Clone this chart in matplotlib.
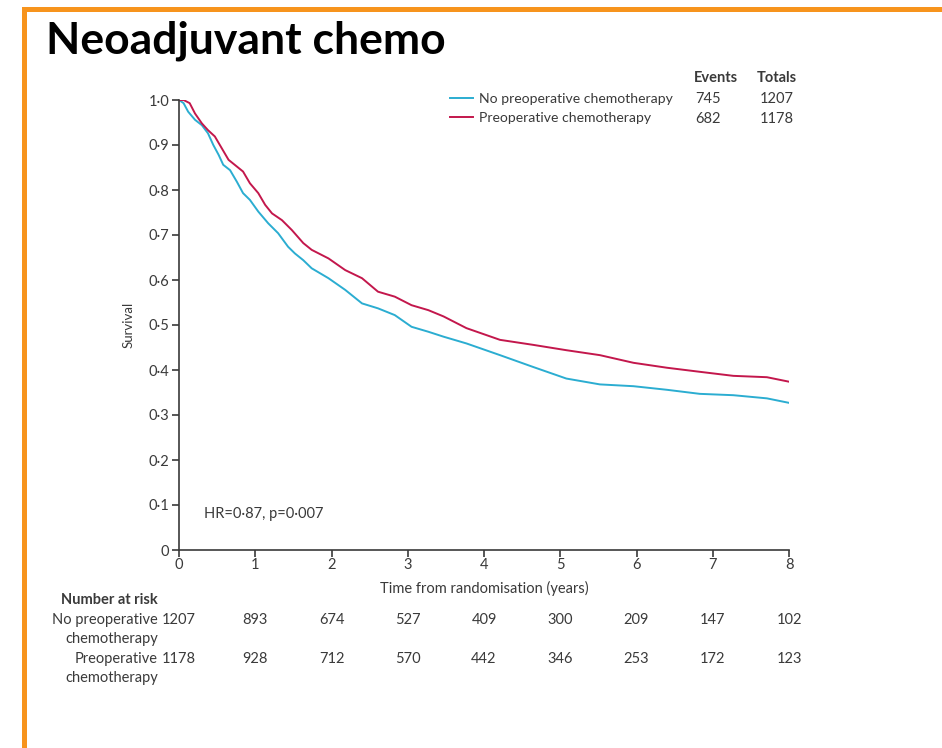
import matplotlib
matplotlib.use("Agg")
import matplotlib.pyplot as plt
from matplotlib.patches import Rectangle

plt.rcParams["font.family"] = ["Lato", "DejaVu Sans"]

# Kaplan-Meier survival, no preoperative chemotherapy
t_no = [0, 0.06, 0.12, 0.21, 0.30, 0.38, 0.45, 0.52, 0.58, 0.67, 0.76, 0.84, 0.93,
        1.04, 1.17, 1.30, 1.43, 1.52, 1.63, 1.74, 1.96, 2.18, 2.40, 2.61, 2.83, 3.05,
        3.27, 3.47, 3.77, 4.21, 4.64, 5.08, 5.52, 5.96, 6.40, 6.83, 7.27, 7.71, 8.0]
s_no = [1.0, 0.993, 0.974, 0.956, 0.944, 0.926, 0.900, 0.878, 0.856, 0.844, 0.818, 0.793, 0.778,
        0.752, 0.726, 0.704, 0.674, 0.659, 0.644, 0.626, 0.604, 0.578, 0.548, 0.537, 0.522, 0.496,
        0.485, 0.474, 0.459, 0.433, 0.407, 0.381, 0.368, 0.364, 0.356, 0.347, 0.344, 0.337, 0.327]

# Kaplan-Meier survival, preoperative chemotherapy
t_pre = [0, 0.06, 0.14, 0.21, 0.30, 0.38, 0.47, 0.56, 0.65, 0.76, 0.84, 0.93, 1.04,
         1.13, 1.22, 1.35, 1.48, 1.63, 1.74, 1.96, 2.18, 2.40, 2.61, 2.83, 3.05, 3.27,
         3.47, 3.77, 4.21, 4.64, 5.08, 5.52, 5.96, 6.40, 6.83, 7.27, 7.71, 8.0]
s_pre = [1.0, 1.0, 0.993, 0.970, 0.948, 0.933, 0.919, 0.893, 0.867, 0.852, 0.841, 0.815, 0.793,
         0.767, 0.748, 0.733, 0.711, 0.682, 0.667, 0.648, 0.622, 0.604, 0.574, 0.563, 0.544, 0.533,
         0.519, 0.493, 0.467, 0.456, 0.444, 0.433, 0.416, 0.405, 0.396, 0.387, 0.384, 0.374]

groups = ["No preoperative chemotherapy", "Preoperative chemotherapy"]
events = [745, 682]
totals = [1207, 1178]

risk_times = [0, 1, 2, 3, 4, 5, 6, 7, 8]
risk_no = [1207, 893, 674, 527, 409, 300, 209, 147, 102]
risk_pre = [1178, 928, 712, 570, 442, 346, 253, 172, 123]

blue = "#2badd1"
red = "#c3174c"
dark = "#3a3a3a"
fs = 10.5

W, H = 942, 748
fig = plt.figure(figsize=(W / 100, H / 100), dpi=100)


def fx(x):
    return x / W


def fy(y):
    return 1 - y / H


# orange frame
orange = "#f7941d"
fig.add_artist(Rectangle((fx(22), fy(12)), fx(W - 22), 5 / H, transform=fig.transFigure,
                         color=orange, lw=0))
fig.add_artist(Rectangle((fx(22), 0), 5 / W, fy(7), transform=fig.transFigure,
                         color=orange, lw=0))

fig.text(fx(46), fy(41), "Neoadjuvant chemo", fontsize=32, fontweight="bold",
         va="center", ha="left", color="black")

ax = fig.add_axes([fx(179), fy(550), fx(789) - fx(179), fy(100) - fy(550)])
ax.plot(t_no, s_no, color=blue, lw=1.4, label=groups[0])
ax.plot(t_pre, s_pre, color=red, lw=1.4, label=groups[1])

ax.set_xlim(0, 8)
ax.set_ylim(0, 1)
for s in ["top", "right"]:
    ax.spines[s].set_visible(False)
for s in ["left", "bottom"]:
    ax.spines[s].set_color(dark)
    ax.spines[s].set_linewidth(1.2)

yt = [i / 10 for i in range(11)]
ax.set_yticks(yt, ["0"] + [f"{v:.1f}".replace(".", "·") for v in yt[1:]])
ax.set_xticks(risk_times, [str(t) for t in risk_times])
ax.tick_params(axis="both", direction="out", length=5, width=1.2, color=dark,
               labelsize=fs, labelcolor=dark)
ax.tick_params(axis="y", pad=2)
ax.tick_params(axis="x", pad=1)
ax.set_xlabel("Time from randomisation (years)", fontsize=fs, color=dark, labelpad=6)
ax.set_ylabel("Survival", fontsize=9.5, color=dark, labelpad=10)

ax.text(0.33, 0.08, "HR=0·87, p=0·007", fontsize=fs, color=dark, va="center")

# legend with events and totals
leg = ax.legend(loc="upper left", bbox_to_anchor=(fx(443), fy(86)),
                bbox_transform=fig.transFigure, frameon=False, fontsize=10.1,
                handlelength=1.65, handletextpad=0.45, labelspacing=0.5, borderpad=0)
for txt in leg.get_texts():
    txt.set_color(dark)
fig.text(fx(694), fy(78), "Events", fontsize=fs, fontweight="bold", color=dark, va="center")
fig.text(fx(757), fy(78), "Totals", fontsize=fs, fontweight="bold", color=dark, va="center")
for i, (e, n) in enumerate(zip(events, totals)):
    y = 99 + i * 20
    fig.text(fx(695), fy(y), str(e), fontsize=fs, color=dark, va="center")
    fig.text(fx(760), fy(y), str(n), fontsize=fs, color=dark, va="center")

# number at risk table
fig.text(fx(158), fy(600), "Number at risk", fontsize=fs, fontweight="bold",
         color=dark, ha="right", va="center")
rows = [(["No preoperative", "chemotherapy"], risk_no, 620),
        (["Preoperative", "chemotherapy"], risk_pre, 659)]
for labels, counts, y in rows:
    fig.text(fx(158), fy(y), labels[0], fontsize=fs, color=dark, ha="right", va="center")
    fig.text(fx(158), fy(y + 19), labels[1], fontsize=fs, color=dark, ha="right", va="center")
    for t, c in zip(risk_times, counts):
        xp = ax.transData.transform((t, 0))[0]
        fig.text(xp / W, fy(y), str(c), fontsize=fs, color=dark, ha="center", va="center")

fig.savefig("out.png", dpi=100)
